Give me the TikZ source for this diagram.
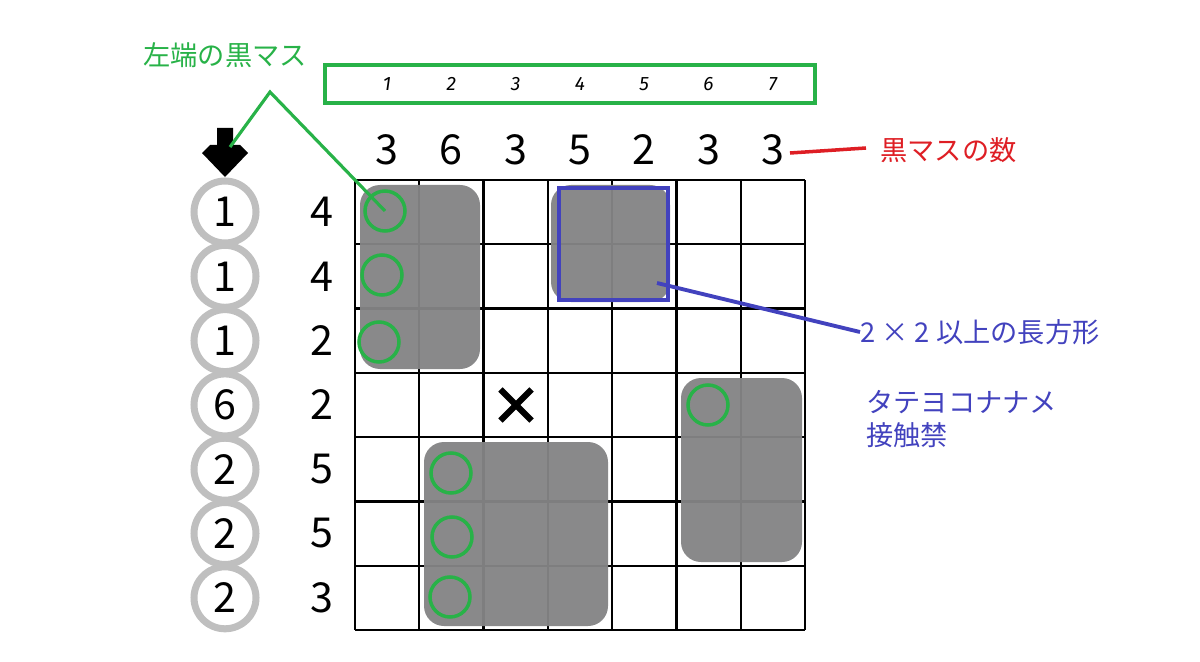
\documentclass[tikz,border=0pt]{standalone}
\usepackage{fontspec}
\setmainfont{Noto Sans CJK JP}
\newfontfamily\idxfont{Fira Sans}
\usetikzlibrary{positioning}
\usetikzlibrary{shapes.misc}
\definecolor{markgreen}{RGB}{40,178,72}
\definecolor{markred}{RGB}{222,30,36}
\definecolor{markblue}{RGB}{66,66,190}
\definecolor{blockgray}{RGB}{132,132,133}

\begin{document}
\begin{tikzpicture}[x=0.02cm,y=-0.02cm,
	clue/.style={font=\fontsize{23.5}{23.5}\selectfont,inner sep=0pt},
	ring/.style={circle,draw=black!25,line width=4pt,minimum size=1.24cm,inner sep=0pt,font=\fontsize{23.5}{23.5}\selectfont},
	start/.style={circle,draw=markgreen,line width=2pt,minimum size=0.8cm,inner sep=0pt},
	block/.style={fill=blockgray,fill opacity=0.96,rounded corners=0.4cm},
	note/.style={font=\fontsize{15.5}{19}\selectfont,inner sep=0pt}
	]
	\useasboundingbox (0,0) rectangle (1200,662);
	% grid
	\foreach \k in {0,...,7}{
		\draw[line width=1.3pt] (355+\k*64.3,180) -- (355+\k*64.3,630);
		\draw[line width=1.3pt] (355,180+\k*64.3) -- (805,180+\k*64.3);
	}
	% black areas
	\fill[block] (360,185) rectangle (480,369);
	\fill[block] (551,185) rectangle (670,302);
	\fill[block] (681,378) rectangle (802,562);
	\fill[block] (424,442) rectangle (608,626);
	\draw[markblue,line width=2.2pt] (559,188) rectangle (668,300);
	% clues
	\foreach \n [count=\j from 0] in {3,6,3,5,2,3,3}{
		\node[clue] (col\j) at (387+\j*64.3,150) {\n};
		\node[font=\idxfont\itshape\fontsize{11}{11}\selectfont] (idx\j) at (387+\j*64.3,84) {\the\numexpr\j+1\relax};
	}
	\foreach \n/\m [count=\i from 0] in {4/1,4/1,2/1,2/6,5/2,5/2,3/2}{
		\node[clue] (row\i) at (322,212+\i*64.3) {\n};
		\node[ring] (left\i) at (225,212+\i*64.3) {\m};
	}
	\draw[markgreen,line width=2.2pt] (325,65) rectangle (815,103);
	% left end cells
	\node[start] (s0) at (385,211) {};
	\node[start] (s1) at (382,275) {};
	\node[start] (s2) at (379,342) {};
	\node[start] (s3) at (708,405) {};
	\node[start] (s4) at (451,473) {};
	\node[start] (s5) at (452,537) {};
	\node[start] (s6) at (450,597) {};
	\node[line width=3.5pt,draw,cross out,minimum size=0.5cm,inner sep=0pt] (nox) at (516,405) {};
	% arrow
	\fill (217,128) -- (233,128) -- (233,145) -- (240,145) -- (248,153) -- (225,177)
		-- (202,153) -- (210,145) -- (217,145) -- cycle;
	\coordinate (arrowtip) at (230,147);
	% notes
	\node[note,text=markgreen] (leftlabel) at (225,55) {左端の黒マス};
	\coordinate (apex) at (270,92);
	\draw[markgreen,line width=1.8pt] (arrowtip) -- (apex) -- (s0.center);
	\node[note,text=markred,anchor=west] (countlabel) at (880,150) {黒マスの数};
	\draw[markred,line width=2pt] (790,153) -- (866,148);
	\coordinate (rectpt) at (657,283);
	\node[note,text=markblue,anchor=west] (rectlabel) at (860,332) {2 × 2 以上の長方形};
	\draw[markblue,line width=2.2pt] (rectpt) -- (rectlabel.west);
	\node[note,text=markblue,anchor=north west,align=left] (touchlabel) at (866,390) {タテヨコナナメ\\接触禁};
\end{tikzpicture}
\end{document}
